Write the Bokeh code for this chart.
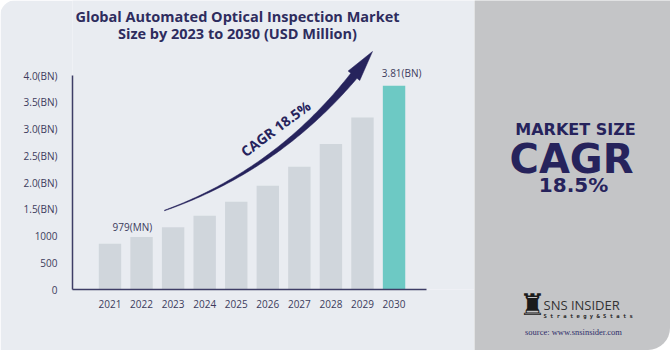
import numpy as np
from bokeh.plotting import figure
from bokeh.models import ColumnDataSource, Range1d, FixedTicker, InlineStyleSheet
from bokeh.layouts import row
from bokeh.core.properties import value
from bokeh.embed import file_html
from bokeh.resources import INLINE

# ---------------- data ----------------
years = [2021, 2022, 2023, 2024, 2025, 2026, 2027, 2028, 2029, 2030]
market_size = [854, 979, 1165, 1380, 1640, 1940, 2295, 2720, 3215, 3810]  # USD million
bar_colors = ["#D0D6DC"] * 9 + ["#6DC9C4"]
y_ticks = [0, 500, 1000, 1500, 2000, 2500, 3000, 3500, 4000]
y_tick_labels = ["0", "500", "1000", "1.5(BN)", "2.0(BN)", "2.5(BN)", "3.0(BN)", "3.5(BN)", "4.0(BN)"]
label_years = [2022, 2030]
label_values = [979, 3810]
label_texts = ["979(MN)", "3.81(BN)"]
title_lines = ["Global Automated Optical Inspection Market", "Size by 2023 to 2030 (USD Million)"]
cagr_text = "CAGR 18.5%"

# ---------------- layout (pixels) ----------------
W1, W2, H = 474, 196, 350
FL, FB = 72, 289                 # frame left / axis baseline (px from top)
px_per_year = 31.56
px_per_unit = 214 / 4000
x0 = 2021 - (109.5 - FL) / px_per_year
x1 = x0 + (W1 - FL) / px_per_year
y1 = FB / px_per_unit

def X(px):
    return x0 + (np.asarray(px, dtype=float) - FL) / px_per_year

def Y(py):
    return (FB - np.asarray(py, dtype=float)) / px_per_unit

NAVY = "#26235C"
TXT = "#3C3B5C"
BG = "#E9ECF1"
PANEL = "#C4C5C7"

p = figure(width=W1, height=H, x_range=Range1d(x0, x1), y_range=Range1d(0, y1),
           toolbar_location=None, output_backend="svg",
           min_border_left=FL, min_border_right=0, min_border_top=0,
           min_border_bottom=H - FB,
           stylesheets=[InlineStyleSheet(css=":host { border-radius: 16px 0 0 0; overflow: hidden; }")])
p.frame_align = False
p.background_fill_color = BG
p.border_fill_color = BG
p.outline_line_color = None
p.grid.visible = False

src = ColumnDataSource(dict(year=years, value=market_size, color=bar_colors))
p.vbar(x="year", top="value", width=0.71, source=src, fill_color="color", line_color=None)

# axes
p.yaxis.ticker = FixedTicker(ticks=y_ticks)
p.yaxis.major_label_overrides = {t: l for t, l in zip(y_ticks, y_tick_labels)}
p.yaxis.bounds = (0, 4000)
p.xaxis.ticker = FixedTicker(ticks=years)
p.xaxis.major_label_overrides = {y: str(y) for y in years}
p.xaxis.bounds = (x0, float(X(426)))
for ax in (p.xaxis, p.yaxis):
    ax.axis_line_color = "#3E3D66"
    ax.axis_line_width = 1.5
    ax.major_tick_line_color = None
    ax.minor_tick_line_color = None
    ax.major_label_text_font = "Open Sans"
    ax.major_label_text_font_size = "10px"
    ax.major_label_text_color = TXT
p.yaxis.major_label_standoff = 9
p.xaxis.major_label_standoff = 4

# value labels
label_offsets_px = [10.5, 13]
lx = [label_years[0] - 0.29, label_years[1] + 0.24]
ly = [v + o / px_per_unit for v, o in zip(label_values, label_offsets_px)]
p.text(x=lx, y=ly, text=label_texts, text_align="center", text_baseline="middle",
       text_font=value("Open Sans"), text_font_size="10px", text_color=TXT)

# title
p.text(x=[float(X(237))] * 2, y=[float(Y(16)), float(Y(33))], text=title_lines,
       text_align="center", text_baseline="middle", text_font=value("Open Sans"),
       text_font_style="bold", text_font_size="14.5px", text_color="#2E2C5E")

# curved CAGR arrow (decoration)
P0, P1, P2 = np.array([164.0, 210.0]), np.array([290.0, 165.0]), np.array([372.0, 51.0])

def bez(t):
    t = np.asarray(t)[:, None]
    return (1 - t) ** 2 * P0 + 2 * (1 - t) * t * P1 + t ** 2 * P2

def dbez(t):
    t = np.asarray(t)[:, None]
    return 2 * (1 - t) * (P1 - P0) + 2 * t * (P2 - P1)

th = 0.89
tb = np.linspace(0, th, 70)
c = bez(tb)
d = dbez(tb)
n = np.stack([-d[:, 1], d[:, 0]], axis=1) / np.linalg.norm(d, axis=1)[:, None]
hw = 0.3 + 3.7 * (tb / th) ** 1.3
upper = c + n * hw[:, None]
lower = c - n * hw[:, None]
cb, nb = c[-1], n[-1]
poly = np.vstack([upper, [cb + nb * 7.5], [P2], [cb - nb * 7.5], lower[::-1]])
p.patch(X(poly[:, 0]), Y(poly[:, 1]), fill_color=NAVY, line_color=NAVY, line_width=0.5)

p.text(x=[float(X(275))], y=[float(Y(128))], text=[cagr_text], angle=0.64,
       text_align="center", text_baseline="middle", text_font=value("Open Sans"),
       text_font_style="bold", text_font_size="14px", text_color=NAVY)

# ---------------- right panel ----------------
q = figure(width=W2, height=H, x_range=Range1d(0, W2), y_range=Range1d(H, 0),
           toolbar_location=None, output_backend="svg", min_border=0,
           x_axis_location=None, y_axis_location=None,
           stylesheets=[InlineStyleSheet(css=":host { border-radius: 0 0 22px 0; overflow: hidden; }")])
q.frame_align = False
q.background_fill_color = PANEL
q.border_fill_color = PANEL
q.outline_line_color = None
q.grid.visible = False

q.text(x=[101], y=[128.5], text=["MARKET SIZE"], text_align="center", text_baseline="middle",
       text_font=value("DejaVu Sans"), text_font_style="bold", text_font_size="16px", text_color=NAVY)
q.text(x=[97], y=[158], text=["CAGR"], text_align="center", text_baseline="middle",
       text_font=value("DejaVu Sans"), text_font_style="bold", text_font_size="40px", text_color=NAVY)
q.text(x=[99], y=[184], text=["18.5%"], text_align="center", text_baseline="middle",
       text_font=value("DejaVu Sans"), text_font_style="bold", text_font_size="20px", text_color=NAVY)

# logo
q.text(x=[58], y=[304], text=["\u265C"], text_align="center", text_baseline="middle",
       text_font=value("DejaVu Sans"), text_font_size="30px", text_color="#1B1B1B")
q.text(x=[69], y=[304], text=["SNS INSIDER"], text_align="left", text_baseline="middle",
       text_font=value("Open Sans"), text_font_size="13px", text_color="#333333")
q.text(x=[69], y=[315], text=["S t r a t e g y   &   S t a t s"], text_align="left", text_baseline="middle",
       text_font=value("DejaVu Sans Mono"), text_font_style="bold", text_font_size="5.5px", text_color="#222222")
q.text(x=[99], y=[331], text=["source: www.snsinsider.com"], text_align="center", text_baseline="middle",
       text_font=value("Liberation Serif"), text_font_size="8.5px", text_color="#2F2E6A")

layout = row(p, q, spacing=0)
open("out.html", "w").write(file_html(layout, INLINE))
